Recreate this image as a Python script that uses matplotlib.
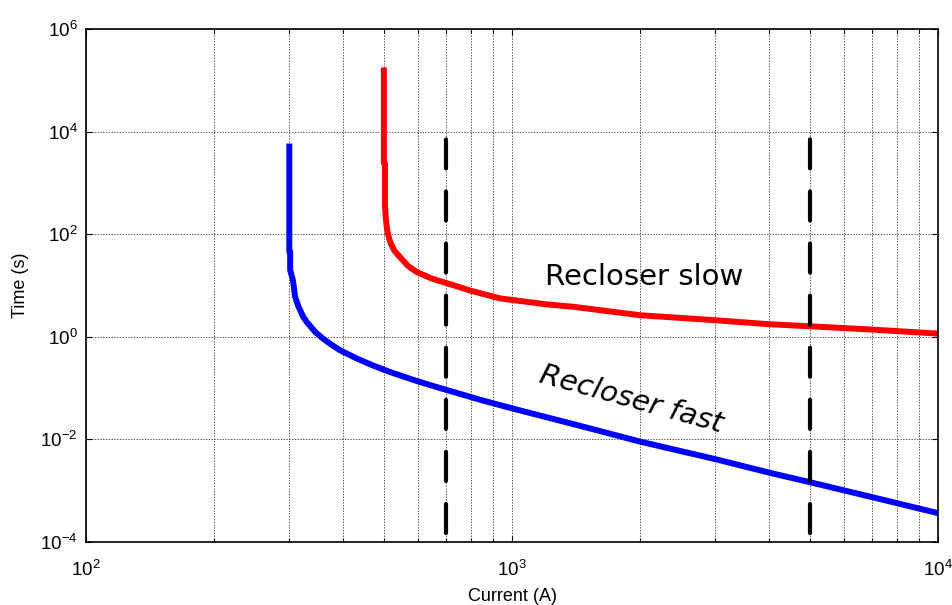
import matplotlib
matplotlib.use("Agg")
import matplotlib.pyplot as plt
from matplotlib.ticker import LogLocator, NullLocator, LogFormatterSciNotation, NullFormatter

# ---- data ----
blue_x = [300, 300, 301.4, 301.4, 306, 309.6, 315, 323.6, 330, 345, 360, 375, 394.5, 430, 470,
          517, 600, 700, 850, 1000, 1500, 1995, 3000, 4036, 5000, 7000, 10000]
blue_y = [5890, 45, 45, 20, 12.5, 6.0, 3.94, 2.43, 1.92, 1.24, 0.918, 0.718, 0.546, 0.383, 0.278,
          0.205, 0.135, 0.092, 0.0575, 0.040, 0.0168, 9.0e-3, 4.08e-3, 2.2e-3, 1.45e-3, 7.4e-4, 3.6e-4]

red_x = [500, 500, 503, 503, 504, 505.5, 509, 515, 520, 530, 546, 570, 598, 650, 703, 800,
         937, 1200, 1400, 1995, 3000, 4036, 5000, 7000, 10000]
red_y = [1.8e5, 2430, 2430, 403, 280, 200, 120, 80, 64, 47, 35.6, 24, 18.2, 13.5, 11.1, 7.9,
         5.6, 4.3, 3.82, 2.63, 2.1, 1.75, 1.6, 1.38, 1.15]

dashed_x = [700, 5000]
dashed_y = [1.45e-4, 7.2e3]

x_limits = [1e2, 1e4]
y_limits = [1e-4, 1e6]
y_ticks = [1e-4, 1e-2, 1e0, 1e2, 1e4, 1e6]

label_slow = "Recloser slow"
label_fast = "Recloser fast"
x_label = "Current (A)"
y_label = "Time (s)"

plt.rcParams['font.family'] = ['Liberation Sans', 'DejaVu Sans']
plt.rcParams['lines.scale_dashes'] = False
plt.rcParams['mathtext.fontset'] = 'custom'
plt.rcParams['mathtext.rm'] = 'Liberation Sans'
plt.rcParams['mathtext.it'] = 'Liberation Sans:italic'

fig = plt.figure(figsize=(9.52, 6.05), dpi=100)
ax = fig.add_axes([0.0903, 0.1046, 0.8953, 0.847])

ax.set_xscale('log')
ax.set_yscale('log')
ax.set_xlim(x_limits)
ax.set_ylim(y_limits)

# grid
ax.xaxis.set_major_locator(LogLocator(base=10, numticks=10))
ax.xaxis.set_minor_locator(LogLocator(base=10, subs=range(2, 10), numticks=20))
ax.xaxis.set_minor_formatter(NullFormatter())
ax.set_yticks(y_ticks)
ax.yaxis.set_major_formatter(LogFormatterSciNotation())
ax.yaxis.set_minor_locator(NullLocator())
ax.grid(True, which='major', axis='both', color='#555555', linestyle=(0, (1, 1)), linewidth=0.7)
ax.grid(True, which='minor', axis='x', color='#555555', linestyle=(0, (1, 1)), linewidth=0.7)
ax.set_axisbelow(True)

# curves
ax.plot(blue_x, blue_y, color='#0000ff', linewidth=4.3, solid_capstyle='butt', solid_joinstyle='round')
ax.plot(red_x, red_y, color='#ff0000', linewidth=4.3, solid_capstyle='butt', solid_joinstyle='round')
for xv in dashed_x:
    ax.plot([xv, xv], dashed_y, color='black', linewidth=3.0,
            dashes=(20.9, 16.6), dash_capstyle='round')

# annotations
ax.text(0.6547, 0.501, label_slow, transform=ax.transAxes, ha='center', va='baseline',
        fontsize=21, family=['DejaVu Sans'])
ax.text(0.637, 0.262, label_fast, transform=ax.transAxes, ha='center', va='baseline',
        fontsize=21, style='italic', rotation=-15.5, rotation_mode='anchor',
        family=['DejaVu Sans'])

# axes styling
for s in ax.spines.values():
    s.set_linewidth(1.2)
    s.set_color('black')
ax.tick_params(which='both', direction='in', top=True, right=True, labelsize=13.5, colors='black')
ax.tick_params(which='major', length=4, width=0.8)
ax.tick_params(which='minor', length=3, width=0.8)
ax.tick_params(axis='x', pad=13)
ax.tick_params(axis='y', pad=6)

ax.set_xlabel(x_label, fontsize=13, labelpad=6)
ax.set_ylabel(y_label, fontsize=13, labelpad=8)

fig.savefig('out.png', dpi=100)
